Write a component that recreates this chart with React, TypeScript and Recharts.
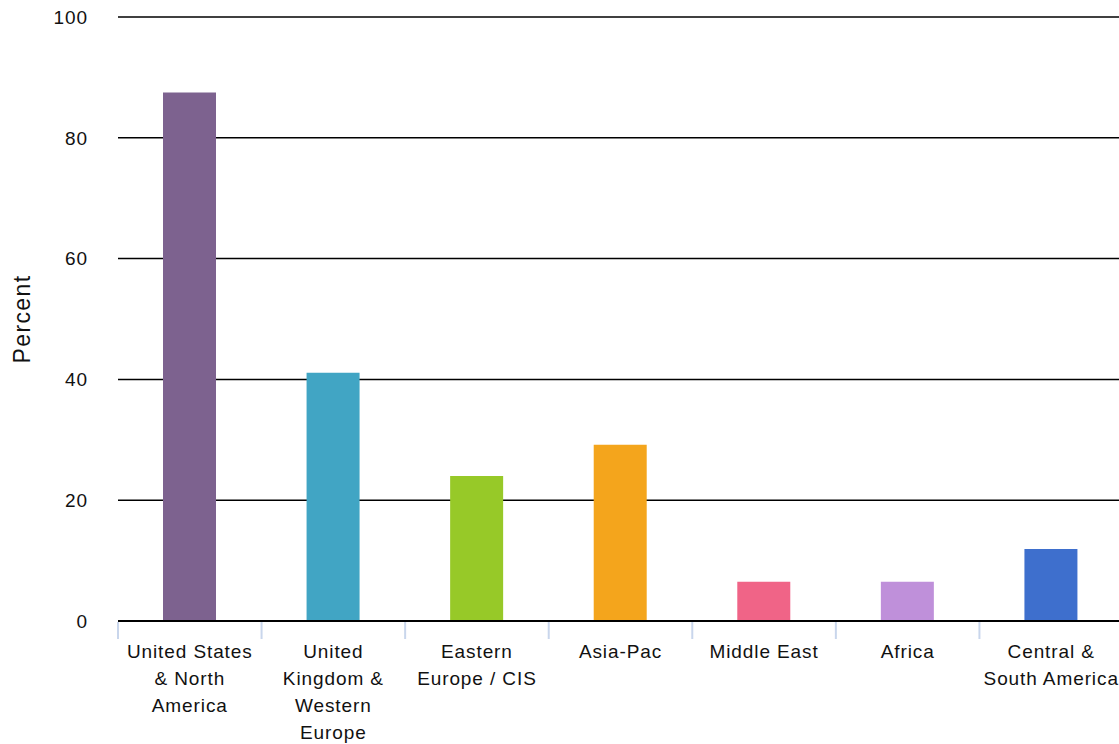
import React from 'react';
import { BarChart, Bar, XAxis, YAxis, CartesianGrid, Cell } from 'recharts';

const categories = [
  'United States & North America',
  'United Kingdom & Western Europe',
  'Eastern Europe / CIS',
  'Asia-Pac',
  'Middle East',
  'Africa',
  'Central & South America',
];
const tickLines: string[][] = [
  ['United States', '& North', 'America'],
  ['United', 'Kingdom &', 'Western', 'Europe'],
  ['Eastern', 'Europe / CIS'],
  ['Asia-Pac'],
  ['Middle East'],
  ['Africa'],
  ['Central &', 'South America'],
];
const values = [87.5, 41.1, 24.0, 29.2, 6.5, 6.5, 11.9];
const colors = ['#7D628F', '#41A5C4', '#97C928', '#F4A51C', '#F06487', '#BF90DA', '#3E6FCD'];
const yTicks = [0, 20, 40, 60, 80, 100];

const data = categories.map((c, i) => ({ name: c, value: values[i] }));

const CHART_W = 1140;
const CHART_H = 744;
const MARGIN = { top: 17, right: 17, left: 0, bottom: 0 };
const Y_W = 118;
const FONT = '"Liberation Sans", Arial, Helvetica, sans-serif';
const PLOT_W = CHART_W - MARGIN.left - MARGIN.right - Y_W;
const HALF_BAND = PLOT_W / categories.length / 2;

const XTick = (props: any) => {
  const { x, y, payload, index } = props;
  const lines = tickLines[index] || [String(payload.value)];
  return (
    <g>
      <line x1={x - HALF_BAND} x2={x - HALF_BAND} y1={y + 1} y2={y + 18} stroke="#C9D6EC" strokeWidth={2} />
      <text x={x} y={y + 37} textAnchor="middle" fill="#111" fontFamily={FONT} fontSize={19} letterSpacing={0.9}>
        {lines.map((l, i) => (
          <tspan key={i} x={x} dy={i === 0 ? 0 : 27}>{l}</tspan>
        ))}
      </text>
    </g>
  );
};

const YLabel = (props: any) => {
  const vb = props.viewBox || {};
  const cx = 22;
  const cy = vb.y + vb.height / 2;
  return (
    <text x={cx} y={cy} transform={`rotate(-90 ${cx} ${cy})`} textAnchor="middle" dominantBaseline="central"
      fill="#111" fontFamily={FONT} fontSize={23} letterSpacing={1.4}>
      Percent
    </text>
  );
};

export default function App() {
  return (
    <div style={{ position: 'absolute', left: 0, top: 0, width: 1119, height: 744, overflow: 'hidden', background: '#fff' }}>
      <BarChart width={CHART_W} height={CHART_H} data={data} margin={MARGIN}>
        <CartesianGrid horizontal vertical={false} stroke="#000" strokeWidth={1.5} />
        <XAxis
          dataKey="name"
          height={CHART_H - 621}
          tickLine={false}
          tickSize={0}
          tickMargin={0}
          axisLine={{ stroke: '#000', strokeWidth: 2 }}
          tick={<XTick />}
          interval={0}
        />
        <YAxis
          width={Y_W}
          domain={[0, 100]}
          ticks={yTicks}
          axisLine={false}
          tickLine={false}
          tickSize={0}
          tickMargin={30}
          tick={{ fill: '#111', fontSize: 19, fontFamily: FONT, letterSpacing: 0.9 }}
          label={<YLabel />}
        />
        <Bar dataKey="value" barSize={53} isAnimationActive={false}>
          {data.map((d, i) => (
            <Cell key={i} fill={colors[i]} />
          ))}
        </Bar>
      </BarChart>
    </div>
  );
}
